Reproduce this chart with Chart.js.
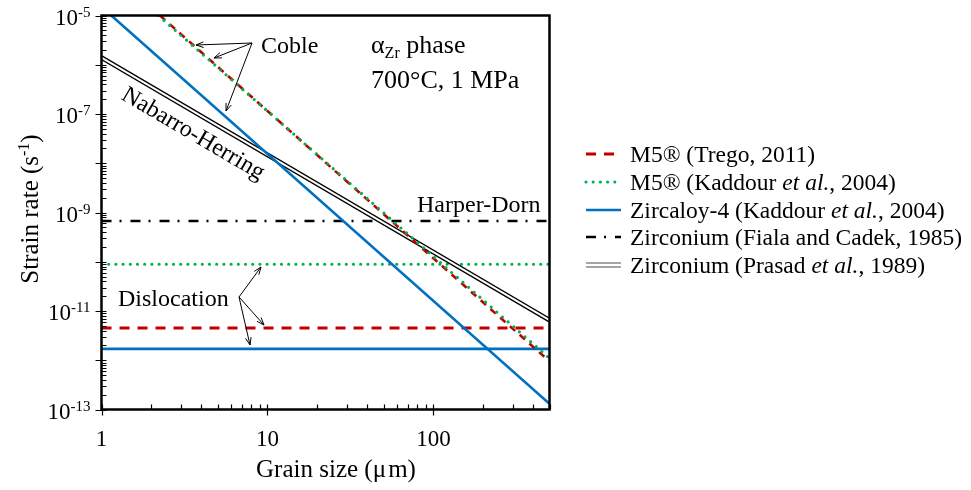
<!DOCTYPE html>
<html>
<head>
<meta charset="utf-8">
<script src="https://cdn.jsdelivr.net/npm/chart.js@4"></script>
<style>
  html, body { margin: 0; padding: 0; background: #fff; }
  canvas { display: block; }
</style>
</head>
<body>
<canvas id="creepChart" width="971" height="490"></canvas>
<script>
// axis ranges and tick labels
const xRange = [1, 500];
const yRange = [1e-13, 1e-5];
const xTickLabels = [1, 10, 100];
const yTickExps = [-5, -7, -9, -11, -13];

// diffusion creep lines, end points (grain size in µm, strain rate in 1/s)
const m5TregoCobleX = [2.25, 500];
const m5TregoCobleY = [1e-5, 9.5e-13];
const m5KaddourCobleX = [2.2, 500];
const m5KaddourCobleY = [1e-5, 1.1e-12];
const zy4CobleX = [1, 500];
const zy4CobleY = [1.5e-5, 1.3e-13];
const zrNabarroX = [1, 500];
const zrNabarroY = [1.4e-6, 6.5e-12];

// grain size independent rates (dislocation and Harper-Dorn)
const m5TregoDisl = 4.5e-12;
const m5KaddourDisl = 8.9e-11;
const zy4Disl = 1.7e-12;
const zrHarperDorn = 6.7e-10;

// legend text, |...| = italic
const legendLabels = [
  'M5® (Trego, 2011)',
  'M5® (Kaddour |et al.|, 2004)',
  'Zircaloy-4 (Kaddour |et al.|, 2004)',
  'Zirconium (Fiala and Cadek, 1985)',
  'Zirconium (Prasad |et al.|, 1989)'
];

const FONT = '"Liberation Serif", "Times New Roman", serif';
const RED = '#c00000';
const GREEN = '#00b050';
const BLUE = '#0070c0';

const pts = (xs, ys) => xs.map((x, i) => ({ x: x, y: ys[i] }));
const flat = (v) => pts(xRange, [v, v]);

const base = { pointRadius: 0, tension: 0, fill: false };
const datasets = [
  { ...base, label: 'm5KaddourCoble', data: pts(m5KaddourCobleX, m5KaddourCobleY), borderColor: GREEN, borderWidth: 3.2, borderDash: [0, 7.5], borderCapStyle: 'round', order: 0 },
  { ...base, label: 'm5TregoCoble', data: pts(m5TregoCobleX, m5TregoCobleY), borderColor: RED, borderWidth: 2.6, borderDash: [7, 6], order: 1 },
  { ...base, label: 'zy4Coble', data: pts(zy4CobleX, zy4CobleY), borderColor: BLUE, borderWidth: 2.6, order: 2 },
  { ...base, label: 'zrNabarroInner', data: pts(zrNabarroX, zrNabarroY), borderColor: '#fff', borderWidth: 2, order: 3 },
  { ...base, label: 'zrNabarro', data: pts(zrNabarroX, zrNabarroY), borderColor: '#000', borderWidth: 4.6, order: 4 },
  { ...base, label: 'zrHarperDorn', data: flat(zrHarperDorn), borderColor: '#000', borderWidth: 2.6, borderDash: [10, 8, 2, 9], order: 5 },
  { ...base, label: 'm5KaddourDisl', data: flat(m5KaddourDisl), borderColor: GREEN, borderWidth: 3.2, borderDash: [0, 7.2], borderCapStyle: 'round', order: 6 },
  { ...base, label: 'm5TregoDisl', data: flat(m5TregoDisl), borderColor: RED, borderWidth: 3, borderDash: [10, 8], order: 7 },
  { ...base, label: 'zy4Disl', data: flat(zy4Disl), borderColor: BLUE, borderWidth: 2.6, order: 8 }
];

// draw a row of text runs (for superscripts, subscripts and italics)
function drawRuns(ctx, runs, x, y, align) {
  let total = 0;
  runs.forEach(r => {
    ctx.font = (r.italic ? 'italic ' : '') + r.size + 'px ' + FONT;
    r.w = ctx.measureText(r.text).width;
    total += r.w;
  });
  let cx = align === 'right' ? x - total : align === 'center' ? x - total / 2 : x;
  ctx.textAlign = 'left';
  runs.forEach(r => {
    ctx.font = (r.italic ? 'italic ' : '') + r.size + 'px ' + FONT;
    ctx.fillText(r.text, cx, y + (r.dy || 0));
    cx += r.w;
  });
}

function arrow(ctx, x0, y0, x1, y1) {
  const a = Math.atan2(y1 - y0, x1 - x0), h = 8, w = 0.36;
  ctx.beginPath();
  ctx.moveTo(x0, y0);
  ctx.lineTo(x1, y1);
  ctx.moveTo(x1 - h * Math.cos(a - w), y1 - h * Math.sin(a - w));
  ctx.lineTo(x1, y1);
  ctx.lineTo(x1 - h * Math.cos(a + w), y1 - h * Math.sin(a + w));
  ctx.stroke();
}

const decor = {
  id: 'decor',
  afterDatasetsDraw(chart) {
    const { ctx, chartArea: a, scales } = chart;
    const xs = scales.x, ys = scales.y;
    ctx.save();
    ctx.fillStyle = '#000';
    ctx.strokeStyle = '#000';
    ctx.textBaseline = 'alphabetic';

    // ticks
    ctx.lineWidth = 1.2;
    ctx.beginPath();
    for (let e = 0; e <= 2; e++) {
      for (let m = 1; m <= 9; m++) {
        const v = m * 10 ** e;
        if (v > xRange[1]) break;
        const px = Math.round(xs.getPixelForValue(v)) + 0.5;
        ctx.moveTo(px, a.bottom - 5);
        ctx.lineTo(px, a.bottom + (m === 1 ? 6 : 0));
      }
    }
    for (let e = -13; e <= -5; e++) {
      for (let m = 1; m <= 9; m++) {
        const v = m * 10 ** e;
        if (v > yRange[1] * 1.0001) break;
        const py = Math.round(ys.getPixelForValue(v)) + 0.5;
        ctx.moveTo(a.left + 5, py);
        ctx.lineTo(a.left - (m === 1 ? 6 : 0), py);
      }
    }
    ctx.stroke();

    // frame
    ctx.lineWidth = 2.5;
    ctx.strokeRect(a.left, a.top, a.right - a.left, a.bottom - a.top);

    // tick labels
    xTickLabels.forEach(v => {
      drawRuns(ctx, [{ text: String(v), size: 23 }], xs.getPixelForValue(v), a.bottom + 36, 'center');
    });
    yTickExps.forEach(e => {
      const py = ys.getPixelForValue(10 ** e);
      drawRuns(ctx, [{ text: '10', size: 23 }, { text: String(e), size: 15, dy: -8 }], a.left - 11, py + 9, 'right');
    });

    // axis titles
    drawRuns(ctx, [{ text: 'Grain size (μ\u200am)', size: 25 }], 336, 477, 'center');
    ctx.save();
    ctx.translate(38, 209);
    ctx.rotate(-Math.PI / 2);
    drawRuns(ctx, [{ text: 'Strain rate (s', size: 25 }, { text: '-1', size: 16, dy: -9 }, { text: ')', size: 25 }], 0, 0, 'center');
    ctx.restore();

    // annotations
    drawRuns(ctx, [{ text: 'Coble', size: 24 }], 261, 53, 'left');
    drawRuns(ctx, [{ text: 'α', size: 26 }, { text: 'Zr', size: 16, dy: 5 }, { text: ' phase', size: 26 }], 371, 53, 'left');
    drawRuns(ctx, [{ text: '700°C, 1 MPa', size: 26 }], 371, 88, 'left');
    drawRuns(ctx, [{ text: 'Harper-Dorn', size: 24 }], 417, 212, 'left');
    drawRuns(ctx, [{ text: 'Dislocation', size: 24 }], 118, 306, 'left');

    // Nabarro-Herring label follows its line
    const p0 = { x: xs.getPixelForValue(zrNabarroX[0]), y: ys.getPixelForValue(zrNabarroY[0]) };
    const p1 = { x: xs.getPixelForValue(zrNabarroX[1]), y: ys.getPixelForValue(zrNabarroY[1]) };
    ctx.save();
    ctx.translate(193, 134);
    ctx.rotate(Math.atan2(p1.y - p0.y, p1.x - p0.x));
    ctx.textBaseline = 'middle';
    drawRuns(ctx, [{ text: 'Nabarro-Herring', size: 24 }], 0, 0, 'center');
    ctx.restore();

    // arrows
    ctx.lineWidth = 1;
    arrow(ctx, 252, 43, 196, 45);
    arrow(ctx, 252, 43, 214, 58);
    arrow(ctx, 252, 43, 226, 111);
    arrow(ctx, 239, 297, 261, 267);
    arrow(ctx, 239, 297, 264, 325);
    arrow(ctx, 239, 297, 250, 345);

    // legend
    const lx0 = 586, lx1 = 621, tx = 630;
    const rows = [154, 182, 210, 237, 265];
    const styles = [datasets[7], datasets[6], datasets[8], datasets[5], null];
    legendLabels.forEach((label, i) => {
      const y = rows[i];
      const s = styles[i];
      if (s) {
        ctx.save();
        ctx.strokeStyle = s.borderColor;
        ctx.lineWidth = s.borderWidth;
        ctx.lineCap = s.borderCapStyle || 'butt';
        ctx.setLineDash(s.borderDash || []);
        ctx.beginPath();
        ctx.moveTo(lx0, y);
        ctx.lineTo(lx1, y);
        ctx.stroke();
        ctx.restore();
      } else {
        ctx.save();
        ctx.strokeStyle = '#888';
        ctx.lineWidth = 1.3;
        ctx.beginPath();
        ctx.moveTo(lx0, y - 2); ctx.lineTo(lx1, y - 2);
        ctx.moveTo(lx0, y + 2); ctx.lineTo(lx1, y + 2);
        ctx.stroke();
        ctx.restore();
      }
      const runs = label.split('|').map((t, k) => ({ text: t, size: 23.5, italic: k % 2 === 1 }));
      drawRuns(ctx, runs, tx, y + 8, 'left');
    });
    ctx.restore();
  }
};

const ctx = document.getElementById('creepChart');
new Chart(ctx, {
  type: 'line',
  data: { datasets: datasets },
  options: {
    responsive: false,
    animation: false,
    layout: { padding: { left: 101.5, top: 15.5, right: 421.5, bottom: 80.5 } },
    plugins: { legend: { display: false }, tooltip: { enabled: false } },
    scales: {
      x: { type: 'logarithmic', min: xRange[0], max: xRange[1], display: false },
      y: { type: 'logarithmic', min: yRange[0], max: yRange[1], display: false }
    }
  },
  plugins: [decor]
});
</script>
</body>
</html>
